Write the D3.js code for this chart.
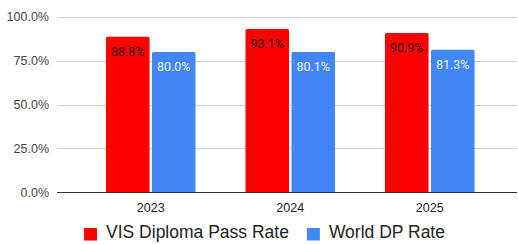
<!DOCTYPE html>
<html>
<head>
<meta charset="utf-8">
<script src="https://cdn.jsdelivr.net/npm/d3@7"></script>
<style>
  html, body { margin: 0; padding: 0; background: #fff; }
  svg { display: block; }
</style>
</head>
<body>
<div id="chart"></div>
<script>
const years = ['2023', '2024', '2025'];
const seriesNames = ['VIS Diploma Pass Rate', 'World DP Rate'];
const visRate = [0.888, 0.931, 0.909];
const worldRate = [0.800, 0.801, 0.813];
const yTicks = [0, 0.25, 0.5, 0.75, 1];

const colors = ['#ff0000', '#4285f4'];
const labelColors = ['#2a0000', '#eef3fe'];

const width = 518, height = 244;
const plotLeft = 57, plotRight = 517;

const svg = d3.select('#chart').append('svg')
    .attr('width', width)
    .attr('height', height);

const y = d3.scaleLinear().domain([0, 1]).range([192.3, 17]);

// grupos por año
const x = d3.scaleBand().domain(years).range([81, 499.5])
    .paddingInner(0.358).paddingOuter(0.179);
const xs = d3.scaleBand().domain(seriesNames).range([0, x.bandwidth()])
    .paddingInner(0.052);

// lineas de la grilla
svg.selectAll('line.grid')
    .data(yTicks.filter(t => t > 0))
    .enter()
    .append('line')
    .attr('x1', plotLeft).attr('x2', plotRight)
    .attr('y1', d => Math.round(y(d)) + 0.5)
    .attr('y2', d => Math.round(y(d)) + 0.5)
    .attr('stroke', '#d0d0d0')
    .attr('stroke-width', 1);

// etiquetas eje Y
svg.selectAll('text.ytick')
    .data(yTicks)
    .enter()
    .append('text')
    .attr('x', 49)
    .attr('y', d => y(d))
    .attr('dy', '0.35em')
    .attr('text-anchor', 'end')
    .attr('font-family', 'Liberation Sans, Arial, sans-serif')
    .attr('font-size', '12.5px')
    .attr('fill', '#444')
    .text(d => d3.format('.1%')(d));

const rows = [];
years.forEach((yr, i) => {
    rows.push({ year: yr, s: 0, v: visRate[i] });
    rows.push({ year: yr, s: 1, v: worldRate[i] });
});

function barPath(x0, w, top, bottom, r) {
    return `M${x0},${bottom}V${top + r}Q${x0},${top} ${x0 + r},${top}` +
        `H${x0 + w - r}Q${x0 + w},${top} ${x0 + w},${top + r}V${bottom}Z`;
}

svg.selectAll('path.bar')
    .data(rows)
    .enter()
    .append('path')
    .attr('d', d => barPath(x(d.year) + xs(seriesNames[d.s]), xs.bandwidth(), y(d.v), y(0), 1.5))
    .attr('fill', d => colors[d.s]);

svg.selectAll('text.val')
    .data(rows)
    .enter()
    .append('text')
    .attr('x', d => x(d.year) + xs(seriesNames[d.s]) + xs.bandwidth() / 2)
    .attr('y', d => y(d.v) + 19)
    .attr('text-anchor', 'middle')
    .attr('font-family', 'Roboto, sans-serif')
    .attr('font-size', '12.5px')
    .attr('fill', d => labelColors[d.s])
    .text(d => d3.format('.1%')(d.v));

// eje base
svg.append('line')
    .attr('x1', plotLeft).attr('x2', plotRight)
    .attr('y1', Math.round(y(0)) + 0.5).attr('y2', Math.round(y(0)) + 0.5)
    .attr('stroke', '#333')
    .attr('stroke-width', 1);

// etiquetas eje X
svg.selectAll('text.xtick')
    .data(years)
    .enter()
    .append('text')
    .attr('x', d => x(d) + x.bandwidth() / 2)
    .attr('y', 211.7)
    .attr('text-anchor', 'middle')
    .attr('font-family', 'Liberation Sans, Arial, sans-serif')
    .attr('font-size', '12.5px')
    .attr('fill', '#222')
    .text(d => d);

// leyenda
const legend = svg.append('g');
let cursor = 0;
seriesNames.forEach((name, i) => {
    const g = legend.append('g').attr('transform', `translate(${cursor},0)`);
    g.append('rect')
        .attr('x', 0).attr('y', 228)
        .attr('width', 13).attr('height', 12.5)
        .attr('fill', colors[i]);
    const t = g.append('text')
        .attr('x', 22).attr('y', 237.5)
        .attr('font-family', 'Liberation Sans, Arial, sans-serif')
        .attr('font-size', '17.5px')
        .attr('fill', '#222')
        .text(name);
    cursor += 22 + t.node().getComputedTextLength() + 18;
});
const legendWidth = cursor - 18;
legend.attr('transform', `translate(${264.5 - legendWidth / 2},0)`);
</script>
</body>
</html>
